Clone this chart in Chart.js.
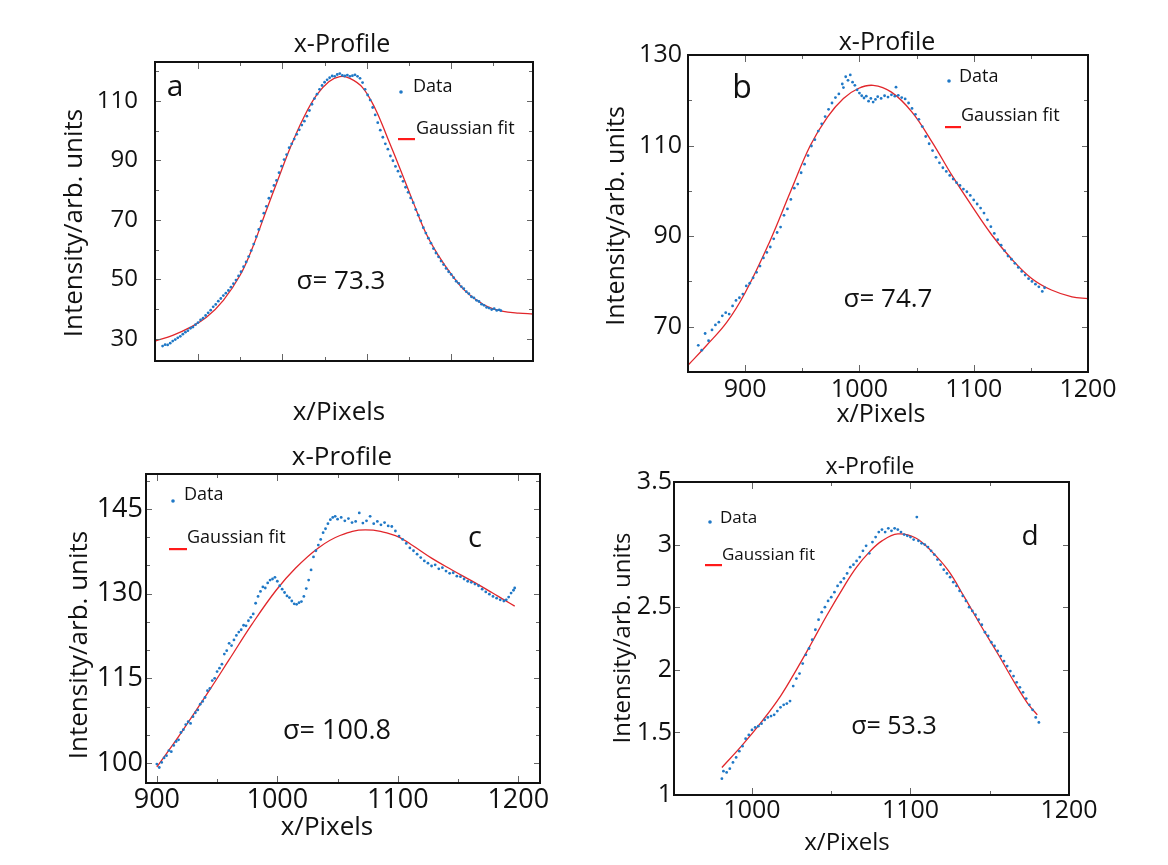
<!DOCTYPE html>
<html lang="en">
<head>
  <meta charset="UTF-8">
  <title>x-Profile</title>
  <script src="https://cdn.jsdelivr.net/npm/chart.js"></script>
  <style>
    body { margin: 0; background: #fff; }
    #wrap { position: relative; width: 1168px; height: 865px; }
    #wrap canvas { position: absolute; left: 0; top: 0; }
  </style>
</head>
<body>
  <div id="wrap">
    <canvas id="chartA" width="1168" height="865"></canvas>
    <canvas id="chartB" width="1168" height="865"></canvas>
    <canvas id="chartC" width="1168" height="865"></canvas>
    <canvas id="chartD" width="1168" height="865"></canvas>
  </div>

  <script>
    // ---- panel a ----
    const A_DATA_X = [858, 861, 864, 867, 870, 873, 876, 879, 882, 885, 888, 891, 894, 897, 900,
      903, 906, 909, 912, 915, 918, 921, 924, 927, 930, 933, 936, 939, 942, 945, 948, 951, 954, 957, 960,
      963, 966, 969, 972, 975, 978, 981, 984, 987, 990, 993, 996, 999, 1002, 1005, 1008, 1011, 1014, 1017, 1020,
      1023, 1026, 1029, 1032, 1035, 1038, 1041, 1044, 1047, 1050, 1053, 1056, 1059, 1062, 1065, 1068, 1071, 1074, 1077, 1080,
      1083, 1086, 1089, 1092, 1095, 1098, 1101, 1104, 1107, 1110, 1113, 1116, 1119, 1122, 1125, 1128, 1131, 1134, 1137, 1140,
      1143, 1146, 1149, 1152, 1155, 1158, 1161, 1164, 1167, 1170, 1173, 1176, 1179, 1182, 1185, 1188, 1191, 1194, 1197, 1200,
      1203, 1206, 1209, 1212, 1215, 1218, 1221, 1224, 1227, 1230, 1233, 1236, 1239, 1242, 1245, 1248, 1251, 1254, 1257, 1259];
    const A_DATA_Y = [27.6, 28.1, 28.0, 28.6, 29.3, 29.8, 30.4, 30.9, 31.6, 32.3, 32.8, 33.6, 34.0, 34.8, 35.5,
      36.4, 37.0, 37.9, 38.8, 39.7, 40.8, 41.6, 42.7, 43.6, 44.6, 45.4, 46.3, 47.4, 48.6, 49.8, 51.2, 52.6, 54.3, 55.9, 57.7,
      59.7, 61.9, 64.4, 66.8, 69.6, 72.3, 74.6, 77.3, 79.6, 81.6, 83.3, 85.9, 88.1, 90.3, 92.0, 94.3, 95.6, 97.2, 98.8, 100.3,
      101.9, 103.2, 104.9, 106.8, 108.9, 110.8, 112.3, 113.9, 115.2, 116.3, 117.1, 117.8, 118.4, 118.3, 118.9, 119.2, 118.6, 118.4, 118.7, 118.3,
      118.5, 118.8, 118.3, 117.6, 116.2, 113.9, 112.0, 110.3, 107.8, 105.3, 102.7, 100.2, 97.8, 95.6, 93.8, 91.5, 89.9, 88.0, 86.4, 84.6,
      83.0, 81.0, 79.3, 77.4, 75.8, 73.5, 71.6, 69.7, 67.4, 65.6, 63.9, 62.2, 60.4, 58.9, 57.6, 56.2, 55.0, 53.7, 52.6, 51.7,
      50.6, 49.4, 48.7, 47.6, 46.9, 45.9, 45.2, 44.2, 43.8, 43.0, 42.6, 41.7, 41.3, 40.6, 40.4, 39.9, 40.2, 39.6, 39.8, 39.5];
    const A_FIT_X = [850, 870, 890, 910, 930, 950, 965, 980, 995, 1010, 1025, 1040, 1055, 1068, 1080, 1095, 1110, 1125, 1140, 1155, 1170, 1185, 1200, 1215, 1230, 1245, 1260, 1280, 1297];
    const A_FIT_Y = [29.4, 31.2, 33.8, 37.3, 43.0, 51.5, 61.0, 72.5, 83.8, 94.8, 104.3, 111.8, 116.5, 118.2, 117.6, 114.5, 107.4, 97.3, 86.8, 76.0, 65.6, 58.0, 51.8, 46.6, 43.1, 40.6, 39.4, 38.7, 38.4];
    const A_X_TICKS = [900, 1000, 1100, 1200];
    const A_X_MINOR = [950, 1050, 1150, 1250];
    const A_Y_TICKS = [30, 50, 70, 90, 110];
    const A_Y_MINOR = [40, 60, 80, 100, 120];

    // ---- panel b ----
    const B_DATA_X = [859, 862, 865, 868, 871, 874, 877, 880, 883, 886, 889, 892, 895, 898, 901, 904, 907, 910, 913, 916,
      919, 922, 925, 928, 931, 934, 937, 940, 943, 946, 949, 952, 955, 958, 961, 964, 967, 970, 973, 976,
      979, 982, 985, 986, 988, 990, 992, 994, 996, 998, 1000, 1002, 1004, 1006, 1008, 1010, 1012, 1014, 1016, 1019,
      1022, 1025, 1028, 1031, 1032, 1034, 1037, 1040, 1043, 1046, 1049, 1052, 1055, 1058, 1061, 1064, 1067, 1070, 1073, 1076,
      1079, 1082, 1085, 1088, 1091, 1094, 1097, 1100, 1103, 1106, 1109, 1112, 1115, 1118, 1121, 1124, 1127, 1130, 1133, 1136,
      1139, 1142, 1145, 1148, 1151, 1154, 1157, 1160, 1162];
    const B_DATA_Y = [65.9, 64.8, 68.5, 66.9, 69.3, 70.4, 71.0, 72.4, 73.1, 72.8, 74.6, 75.8, 76.4, 77.2, 79.0, 79.6, 80.8, 82.0, 83.4, 85.2,
      86.4, 87.6, 89.4, 90.8, 92.0, 94.6, 96.0, 98.1, 100.6, 101.5, 104.0, 105.9, 107.8, 109.9, 111.3, 113.2, 114.8, 116.4, 118.0, 119.4,
      120.6, 121.4, 123.6, 122.8, 125.2, 124.4, 125.6, 124.0, 123.3, 122.3, 121.6, 121.0, 120.5, 120.9, 119.8, 120.4, 119.6, 120.2, 120.8, 120.4,
      121.0, 120.7, 121.2, 120.9, 122.9, 121.1, 120.6, 120.3, 119.4, 118.2, 116.9, 115.8, 114.2, 112.0, 110.4, 108.9, 107.4, 106.2, 105.1, 104.3,
      103.4, 102.6, 101.8, 101.2, 100.4, 99.8, 99.0, 98.0, 97.1, 96.2, 95.1, 93.6, 92.1, 90.6, 89.2, 88.0, 86.8, 85.6, 84.9, 84.0,
      83.1, 82.2, 81.4, 80.6, 80.0, 79.4, 78.8, 77.8, 78.6];
    const B_FIT_X = [850, 866, 884, 900, 921, 940, 957, 972, 986, 999, 1012, 1028, 1046, 1064, 1081, 1098, 1116, 1133, 1151, 1168, 1186, 1200];
    const B_FIT_Y = [61.5, 65.8, 71.0, 77.5, 88.5, 100.0, 110.0, 116.3, 120.4, 122.6, 123.3, 121.8, 117.4, 110.6, 103.4, 96.8, 90.2, 85.0, 80.6, 78.1, 76.6, 76.2];
    const B_X_TICKS = [900, 1000, 1100, 1200];
    const B_X_MINOR = [950, 1050, 1150];
    const B_Y_TICKS = [70, 90, 110, 130];
    const B_Y_MINOR = [80, 100, 120];

    // ---- panel c ----
    const C_DATA_X = [900, 902, 904, 906, 908, 910, 912, 914, 916, 918, 920, 922, 924, 926, 928, 930, 932, 934, 936, 938,
      940, 942, 944, 946, 948, 950, 952, 954, 956, 958, 960, 962, 964, 966, 968, 970, 972, 974, 976, 978,
      980, 982, 984, 986, 988, 990, 992, 994, 996, 998, 1000, 1002, 1004, 1006, 1008, 1010, 1012, 1014, 1016, 1018,
      1020, 1022, 1024, 1026, 1028, 1030, 1032, 1034, 1036, 1038, 1040, 1042, 1044, 1046, 1048, 1050, 1053, 1056, 1059, 1062,
      1065, 1068, 1071, 1074, 1077, 1080, 1083, 1086, 1089, 1092, 1095, 1098, 1101, 1104, 1107, 1110, 1113, 1116, 1119, 1122,
      1125, 1128, 1131, 1134, 1137, 1140, 1143, 1146, 1149, 1152, 1155, 1158, 1161, 1164, 1167, 1170, 1173, 1176, 1179, 1182,
      1185, 1188, 1190, 1192, 1194, 1196, 1197];
    const C_DATA_Y = [99.8, 99.2, 100.1, 100.9, 101.3, 102.2, 102.0, 103.1, 103.8, 104.1, 105.4, 105.9, 106.8, 107.3, 107.0, 108.2, 108.9, 109.4, 110.4, 110.9,
      111.6, 112.8, 113.2, 114.6, 115.0, 116.2, 116.8, 117.5, 119.3, 119.9, 121.2, 120.8, 121.8, 122.6, 123.2, 123.6, 124.4, 124.3, 125.2, 125.8,
      126.4, 128.3, 129.5, 130.4, 131.2, 131.0, 131.9, 132.4, 132.6, 132.9, 132.2, 131.4, 130.8, 130.2, 129.6, 129.3, 128.7, 128.2, 128.1, 128.4,
      128.6, 129.5, 130.9, 132.4, 134.2, 136.5, 137.6, 138.6, 139.6, 140.8, 141.5, 142.4, 143.1, 143.5, 143.7, 143.2, 143.5, 142.9, 143.3, 142.6,
      142.8, 144.3, 142.5, 142.9, 143.7, 142.4, 142.8, 142.2, 142.6, 142.0, 141.9, 141.1, 140.2, 139.6, 138.9, 138.1, 137.6, 137.0, 136.4, 135.8,
      135.4, 134.9, 135.1, 134.4, 134.6, 134.0, 133.6, 133.7, 133.1, 133.0, 132.6, 132.2, 132.0, 131.7, 131.4, 130.8, 130.3, 129.9, 129.5, 129.2,
      128.9, 128.7, 128.9, 129.4, 130.1, 130.6, 131.0];
    const C_FIT_X = [900, 920, 944, 960, 979, 999, 1015, 1034, 1052, 1073, 1098, 1111, 1128, 1145, 1161, 1178, 1189, 1197];
    const C_FIT_Y = [99.3, 105.3, 113.0, 118.3, 124.6, 130.6, 134.5, 138.1, 140.3, 141.3, 140.3, 138.7, 136.3, 134.2, 132.3, 130.2, 128.8, 127.8];
    const C_X_TICKS = [900, 1000, 1100, 1200];
    const C_X_MINOR = [950, 1050, 1150];
    const C_Y_TICKS = [100, 115, 130, 145];
    const C_Y_MINOR = [105, 110, 120, 125, 135, 140, 150];

    // ---- panel d ----
    const D_DATA_X = [981, 982, 984, 986, 988, 990, 992, 994, 996, 998, 1000, 1002, 1004, 1006, 1008, 1010, 1012, 1014, 1016, 1018,
      1020, 1022, 1024, 1026, 1028, 1030, 1032, 1034, 1036, 1038, 1040, 1042, 1044, 1046, 1048, 1050, 1052, 1054, 1056, 1058,
      1060, 1062, 1064, 1066, 1068, 1070, 1072, 1074, 1076, 1078, 1080, 1082, 1084, 1086, 1088, 1090, 1092, 1094, 1096, 1098,
      1100, 1102, 1104, 1105, 1107, 1109, 1111, 1113, 1115, 1117, 1119, 1121, 1123, 1125, 1127, 1129, 1131, 1133, 1135, 1137,
      1139, 1141, 1143, 1145, 1147, 1149, 1151, 1153, 1155, 1157, 1159, 1161, 1163, 1165, 1167, 1169, 1171, 1173, 1175, 1177,
      1179, 1181];
    const D_DATA_Y = [1.13, 1.19, 1.18, 1.21, 1.26, 1.30, 1.35, 1.39, 1.45, 1.48, 1.52, 1.54, 1.55, 1.57, 1.60, 1.62, 1.63, 1.64, 1.67, 1.70,
      1.72, 1.73, 1.75, 1.87, 1.93, 1.97, 2.05, 2.12, 2.17, 2.24, 2.32, 2.40, 2.46, 2.50, 2.55, 2.58, 2.62, 2.67, 2.70, 2.73,
      2.77, 2.82, 2.84, 2.87, 2.90, 2.95, 2.99, 2.93, 3.02, 3.06, 3.10, 3.12, 3.10, 3.13, 3.11, 3.13, 3.12, 3.10, 3.08, 3.07,
      3.06, 3.04, 3.22, 3.03, 3.01, 3.00, 2.98, 2.95, 2.92, 2.88, 2.84, 2.80, 2.77, 2.74, 2.70, 2.67, 2.63, 2.59, 2.55, 2.50,
      2.47, 2.44, 2.40, 2.36, 2.30, 2.27, 2.22, 2.19, 2.15, 2.11, 2.07, 2.03, 1.99, 1.95, 1.90, 1.86, 1.82, 1.77, 1.72, 1.68,
      1.62, 1.58];
    const D_FIT_X = [981, 994, 1007, 1018, 1028, 1037, 1047, 1058, 1066, 1074, 1082, 1092, 1103, 1113, 1124, 1134, 1145, 1155, 1166, 1174, 1180];
    const D_FIT_Y = [1.22, 1.40, 1.60, 1.79, 2.00, 2.20, 2.43, 2.665, 2.82, 2.94, 3.03, 3.085, 3.055, 2.95, 2.79, 2.58, 2.34, 2.13, 1.89, 1.73, 1.64];
    const D_X_TICKS = [1000, 1100, 1200];
    const D_X_MINOR = [1050, 1150];
    const D_Y_TICKS = [1, 1.5, 2, 2.5, 3, 3.5];
    const D_Y_MINOR = [];

    const BLUE = '#1f78c6';
    const RED = '#e1262b';
    const FONT = "'Open Sans', sans-serif";
    const W = 1168, H = 865;

    function pairs(xs, ys) {
      return xs.map((x, i) => ({ x: x, y: ys[i] }));
    }

    function tickMarks(ctx, scale, values, len, area, horizontal) {
      values.forEach(v => {
        if (v <= scale.min || v >= scale.max) return;
        const p = Math.round(scale.getPixelForValue(v)) + 0.5;
        ctx.beginPath();
        if (horizontal) {
          ctx.moveTo(p, area.bottom); ctx.lineTo(p, area.bottom - len);
          ctx.moveTo(p, area.top); ctx.lineTo(p, area.top + len);
        } else {
          ctx.moveTo(area.left, p); ctx.lineTo(area.left + len, p);
          ctx.moveTo(area.right, p); ctx.lineTo(area.right - len, p);
        }
        ctx.stroke();
      });
    }

    // frame, inward ticks, titles, panel letter, sigma and the little legend
    function decor(p) {
      return {
        id: 'decor',
        afterDraw(chart) {
          const ctx = chart.ctx, a = chart.chartArea;
          ctx.save();
          ctx.strokeStyle = '#666';
          ctx.lineWidth = 1;
          tickMarks(ctx, chart.scales.x, p.xTicks, 7, a, true);
          tickMarks(ctx, chart.scales.x, p.xMinor, 4, a, true);
          tickMarks(ctx, chart.scales.y, p.yTicks, 6, a, false);
          tickMarks(ctx, chart.scales.y, p.yMinor, 4, a, false);

          ctx.strokeStyle = '#111';
          ctx.lineWidth = 2;
          ctx.strokeRect(a.left, a.top, a.right - a.left, a.bottom - a.top);

          ctx.fillStyle = '#111';
          ctx.textAlign = 'center';
          ctx.textBaseline = 'middle';
          ctx.font = p.titleSize + 'px ' + FONT;
          ctx.fillText('x-Profile', p.title[0], p.title[1]);
          ctx.font = p.axisSize + 'px ' + FONT;
          ctx.fillText('x/Pixels', p.xTitle[0], p.xTitle[1]);
          ctx.save();
          ctx.translate(p.yTitle[0], p.yTitle[1]);
          ctx.rotate(-Math.PI / 2);
          ctx.fillText('Intensity/arb. units', 0, 0);
          ctx.restore();

          ctx.font = p.letterSize + 'px ' + FONT;
          ctx.fillText(p.letter, p.letterPos[0], p.letterPos[1]);
          ctx.font = p.sigmaSize + 'px ' + FONT;
          ctx.fillText(p.sigma, p.sigmaPos[0], p.sigmaPos[1]);

          // legend
          const L = p.legend;
          ctx.font = L.size + 'px ' + FONT;
          ctx.textAlign = 'left';
          ctx.fillText('Data', L.dataText[0], L.dataText[1]);
          ctx.fillText('Gaussian fit', L.fitText[0], L.fitText[1]);
          ctx.fillStyle = BLUE;
          ctx.beginPath();
          ctx.arc(L.dot[0], L.dot[1], 1.8, 0, Math.PI * 2);
          ctx.fill();
          ctx.fillStyle = '#ff1a1a';
          ctx.fillRect(L.line[0], L.line[2] - 1, L.line[1] - L.line[0], 2.2);
          ctx.restore();
        }
      };
    }

    function makePanel(id, p) {
      const ctx = document.getElementById(id).getContext('2d');
      const tickFont = { family: FONT, size: p.tickSize };
      return new Chart(ctx, {
        type: 'scatter',
        data: {
          datasets: [{
            label: 'Data',
            data: pairs(p.dataX, p.dataY),
            pointRadius: 1.4,
            pointBackgroundColor: BLUE,
            pointBorderWidth: 0,
            showLine: false
          }, {
            label: 'Gaussian fit',
            data: pairs(p.fitX, p.fitY),
            showLine: true,
            borderColor: RED,
            borderWidth: 1.3,
            pointRadius: 0,
            tension: 0.4
          }]
        },
        options: {
          responsive: false,
          animation: false,
          events: [],
          layout: {
            padding: {
              left: p.box.left - p.yAxisW,
              top: p.box.top,
              right: W - p.box.right,
              bottom: H - p.box.bottom - p.xAxisH
            }
          },
          plugins: {
            legend: { display: false },
            title: { display: false },
            tooltip: { enabled: false }
          },
          scales: {
            x: {
              type: 'linear',
              min: p.xRange[0],
              max: p.xRange[1],
              afterBuildTicks: s => { s.ticks = p.xTicks.map(v => ({ value: v })); },
              afterFit: s => { s.height = p.xAxisH; },
              grid: { display: false, drawTicks: false },
              border: { display: false },
              ticks: {
                display: p.xLabels,
                padding: p.xPad,
                font: tickFont,
                color: '#111',
                maxRotation: 0,
                autoSkip: false,
                callback: v => String(v)
              }
            },
            y: {
              type: 'linear',
              min: p.yRange[0],
              max: p.yRange[1],
              afterBuildTicks: s => { s.ticks = p.yTicks.map(v => ({ value: v })); },
              afterFit: s => { s.width = p.yAxisW; },
              grid: { display: false, drawTicks: false },
              border: { display: false },
              ticks: {
                padding: p.yPad,
                font: tickFont,
                color: '#111',
                autoSkip: false,
                callback: v => String(v)
              }
            }
          }
        },
        plugins: [decor(p)]
      });
    }

    makePanel('chartA', {
      dataX: A_DATA_X, dataY: A_DATA_Y, fitX: A_FIT_X, fitY: A_FIT_Y,
      xTicks: A_X_TICKS, xMinor: A_X_MINOR, yTicks: A_Y_TICKS, yMinor: A_Y_MINOR,
      xRange: [849, 1297], yRange: [22.6, 123.1],
      box: { left: 155, right: 533, top: 62, bottom: 361 },
      yAxisW: 70, xAxisH: 10, xLabels: false, xPad: 0, yPad: 17, tickSize: 24,
      title: [342, 45], titleSize: 25,
      xTitle: [339, 413], yTitle: [75, 223], axisSize: 26,
      letter: 'a', letterPos: [175, 87], letterSize: 30,
      sigma: 'σ= 73.3', sigmaPos: [341, 282], sigmaSize: 26,
      legend: { size: 18, dot: [401, 92], dataText: [413, 87], line: [398, 415, 139], fitText: [416, 129] }
    });

    makePanel('chartB', {
      dataX: B_DATA_X, dataY: B_DATA_Y, fitX: B_FIT_X, fitY: B_FIT_Y,
      xTicks: B_X_TICKS, xMinor: B_X_MINOR, yTicks: B_Y_TICKS, yMinor: B_Y_MINOR,
      xRange: [850, 1200], yRange: [60, 130],
      box: { left: 688, right: 1088, top: 55, bottom: 372 },
      yAxisW: 70, xAxisH: 40, xLabels: true, xPad: 3, yPad: 6, tickSize: 25,
      title: [887, 43], titleSize: 25,
      xTitle: [881, 415], yTitle: [617, 216], axisSize: 25,
      letter: 'b', letterPos: [742, 89], letterSize: 32,
      sigma: 'σ= 74.7', sigmaPos: [888, 300], sigmaSize: 26,
      legend: { size: 18, dot: [949, 81], dataText: [959, 77], line: [945, 961, 127], fitText: [961, 116] }
    });

    makePanel('chartC', {
      dataX: C_DATA_X, dataY: C_DATA_Y, fitX: C_FIT_X, fitY: C_FIT_Y,
      xTicks: C_X_TICKS, xMinor: C_X_MINOR, yTicks: C_Y_TICKS, yMinor: C_Y_MINOR,
      xRange: [891, 1218], yRange: [96.45, 151.2],
      box: { left: 146, right: 540, top: 474, bottom: 783 },
      yAxisW: 70, xAxisH: 40, xLabels: true, xPad: 1, yPad: 3, tickSize: 27,
      title: [342, 458], titleSize: 26,
      xTitle: [327, 828], yTitle: [80, 645], axisSize: 26,
      letter: 'c', letterPos: [475, 539], letterSize: 29,
      sigma: 'σ= 100.8', sigmaPos: [337, 731], sigmaSize: 27,
      legend: { size: 18, dot: [173, 501], dataText: [184, 495], line: [169, 187, 549], fitText: [187, 538] }
    });

    makePanel('chartD', {
      dataX: D_DATA_X, dataY: D_DATA_Y, fitX: D_FIT_X, fitY: D_FIT_Y,
      xTicks: D_X_TICKS, xMinor: D_X_MINOR, yTicks: D_Y_TICKS, yMinor: D_Y_MINOR,
      xRange: [950.8, 1200], yRange: [1, 3.5],
      box: { left: 674, right: 1069, top: 482, bottom: 795 },
      yAxisW: 70, xAxisH: 40, xLabels: true, xPad: 1, yPad: 2, tickSize: 25,
      title: [870, 467], titleSize: 23,
      xTitle: [847, 843], yTitle: [623, 638], axisSize: 24,
      letter: 'd', letterPos: [1030, 537], letterSize: 28,
      sigma: 'σ= 53.3', sigmaPos: [894, 727], sigmaSize: 25,
      legend: { size: 17, dot: [710, 522], dataText: [720, 518], line: [705, 722, 565], fitText: [722, 555] }
    });
  </script>
</body>
</html>
